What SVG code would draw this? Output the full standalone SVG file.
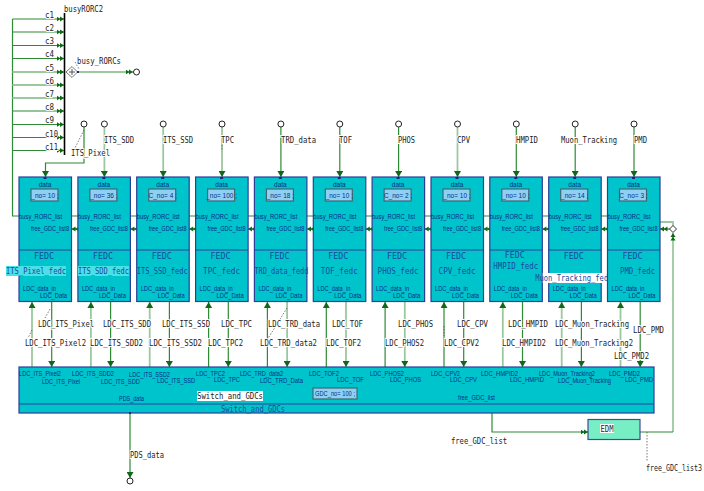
<svg xmlns="http://www.w3.org/2000/svg" width="704" height="491" viewBox="0 0 704 491">
<style>
text{font-family:"Liberation Sans",Arial,sans-serif}
.w{fill:none;stroke:#2f8a35;stroke-width:1.2}
.p{fill:none;stroke:#9cc89f;stroke-width:1.8}
.dot{fill:none;stroke:#555;stroke-width:.8;stroke-dasharray:1.5 1.5}
.box{fill:#00c4cc;stroke:#2c3f98;stroke-width:1.2}
.div{stroke:#2c3f98;stroke-width:1}
.sm{font-size:6.5px;fill:#062f86}
.nm{font-family:"DejaVu Sans Mono","Liberation Mono",monospace;font-size:8px;fill:#1a4a9c}
.lb{font-family:"DejaVu Sans Mono","Liberation Mono",monospace;font-size:8px;fill:#222;paint-order:stroke;stroke:#fff;stroke-width:2px}
.fld{fill:#8ed0f4;stroke:#3c6a70;stroke-width:1.2}
.c{fill:#fff;stroke:#222;stroke-width:1}
.pt{fill:#1a2a7a}
</style>
<defs>
<marker id="a1" markerUnits="userSpaceOnUse" markerWidth="7" markerHeight="7" refX="6" refY="3.5" orient="auto"><path d="M0 0L6 3.5L0 7Z" fill="#0f6a18"/></marker>
<marker id="a2" markerUnits="userSpaceOnUse" markerWidth="8" markerHeight="6" refX="7.5" refY="3" orient="auto"><path d="M0 .5L4 3L0 5.5ZM3.5 .5L7.5 3L3.5 5.5Z" fill="#0f6a18"/></marker>
</defs>

<g id="connectors">
<path class="w" d="M12.500 19V216H19"/>
<path class="w" d="M12.500 19H64" marker-end="url(#a2)"/>
<path class="w" d="M12.500 32H64" marker-end="url(#a2)"/>
<path class="w" d="M12.500 45.500H64" marker-end="url(#a2)"/>
<path class="w" d="M12.500 58.500H64" marker-end="url(#a2)"/>
<path class="p" d="M12.500 72H64" marker-end="url(#a2)"/>
<path class="p" d="M12.500 85H64" marker-end="url(#a2)"/>
<path class="p" d="M12.500 98H64" marker-end="url(#a2)"/>
<path class="w" d="M12.500 111H64" marker-end="url(#a2)"/>
<path class="w" d="M12.500 124.500H64" marker-end="url(#a2)"/>
<path class="w" d="M12.500 137.500H64" marker-end="url(#a2)"/>
<path class="w" d="M12.500 150.500H64" marker-end="url(#a2)"/>
<path d="M64.500 13V155" stroke="#000" stroke-width="1.6"/>
<path class="p" d="M78 72H133" marker-end="url(#a2)"/>
<circle class="c" cx="136.500" cy="72" r="3"/>
<path d="M66 72L72 66.500L77.500 72L72 77.500Z" fill="#fff" stroke="#777" stroke-width="1"/>
<path d="M69 72H75M72 69V75" stroke="#555" stroke-width="1"/>
<rect class="pt" x="77" y="71" width="2" height="2"/>
<path class="dot" d="M75 62L79 69"/>

<path class="w" d="M84 127V163H45.500V177" marker-end="url(#a1)"/>
<path class="p" d="M104.400 127V177" marker-end="url(#a1)"/>
<path class="p" d="M163.200 127V177" marker-end="url(#a1)"/>
<path class="p" d="M222 127V177" stroke-width="1" marker-end="url(#a1)"/>
<path class="w" d="M280.900 127V177" marker-end="url(#a1)"/>
<path class="w" d="M339.800 127V177" marker-end="url(#a1)"/>
<path class="w" d="M398.600 127V177" marker-end="url(#a1)"/>
<path class="p" d="M457.500 127V177" marker-end="url(#a1)"/>
<path class="w" d="M516.300 127V177" marker-end="url(#a1)"/>
<path class="w" d="M575.200 127V177" marker-end="url(#a1)"/>
<path class="w" d="M634 127V177" marker-end="url(#a1)"/>
<circle class="c" cx="84" cy="124" r="3"/><circle class="c" cx="104.400" cy="124" r="3"/><circle class="c" cx="163.200" cy="124" r="3"/><circle class="c" cx="222" cy="124" r="3"/><circle class="c" cx="280.900" cy="124" r="3"/><circle class="c" cx="339.800" cy="124" r="3"/><circle class="c" cx="398.600" cy="124" r="3"/><circle class="c" cx="457.500" cy="124" r="3"/><circle class="c" cx="516.300" cy="124" r="3"/><circle class="c" cx="575.200" cy="124" r="3"/><circle class="c" cx="634" cy="124" r="3"/>
<path class="dot" d="M84 130L75 148M222 145V151"/>

<path class="w" d="M71.500 216H78M130.400 216H136.700M189.200 216H195.600M248 216H254.400M307 216H313.300M365.800 216H372.100M424.700 216H431M483.500 216H489.800M542.400 216H548.700M601.200 216H607.500"/>
<path class="w" d="M78 229H71.500" marker-end="url(#a2)"/>
<path class="w" d="M136.700 229H130.400" marker-end="url(#a2)"/>
<path class="w" d="M195.600 229H189.200" marker-end="url(#a2)"/>
<path class="w" d="M254.400 229H248" marker-end="url(#a2)"/>
<path class="w" d="M313.300 229H307" marker-end="url(#a2)"/>
<path class="w" d="M372.100 229H365.800" marker-end="url(#a2)"/>
<path class="w" d="M431 229H424.700" marker-end="url(#a2)"/>
<path class="w" d="M489.800 229H483.500" marker-end="url(#a2)"/>
<path class="w" d="M548.700 229H542.400" marker-end="url(#a2)"/>
<path class="w" d="M607.500 229H601.200" marker-end="url(#a2)"/>
<path class="w" d="M670 229H660" marker-end="url(#a2)"/>
<path class="p" d="M660 222H673V226"/>
<path d="M669.500 229L673 225.500L676.500 229L673 232.500Z" fill="#fff" stroke="#333" stroke-width="1"/>
<path class="p" d="M673 432V233" marker-end="url(#a2)"/>
<path class="w" d="M640 432H673"/>

<path class="p" d="M32 367V302" marker-end="url(#a1)"/><path class="w" d="M51.700 302V367" marker-end="url(#a1)"/>
<path class="p" d="M90.900 367V302" marker-end="url(#a1)"/><path class="w" d="M110.600 302V367" marker-end="url(#a1)"/>
<path class="p" d="M149.700 367V302" marker-end="url(#a1)"/><path class="w" d="M169.400 302V367" marker-end="url(#a1)"/>
<path class="w" d="M208.600 367V302" marker-end="url(#a1)"/><path class="w" d="M228.300 302V367" marker-end="url(#a1)"/>
<path class="w" d="M267.400 367V302" marker-end="url(#a1)"/><path class="p" d="M287.100 302V367" marker-end="url(#a1)"/>
<path class="w" d="M326.300 367V302" marker-end="url(#a1)"/><path class="p" d="M346 302V367" marker-end="url(#a1)"/>
<path class="w" d="M385.100 367V302" marker-end="url(#a1)"/><path class="p" d="M404.800 302V367" marker-end="url(#a1)"/>
<path class="w" d="M444 367V302" marker-end="url(#a1)"/><path class="w" d="M463.700 302V367" marker-end="url(#a1)"/>
<path class="p" d="M502.800 367V302" marker-end="url(#a1)"/><path class="w" d="M522.500 302V367" marker-end="url(#a1)"/>
<path class="p" d="M561.700 367V302" marker-end="url(#a1)"/><path class="w" d="M581.400 302V367" marker-end="url(#a1)"/>
<path class="p" d="M620.500 367V302" marker-end="url(#a1)"/><path class="w" d="M640.200 302V367" marker-end="url(#a1)"/>
<path class="dot" d="M50 309L45 318M32 330L28 338M287 308L267 340M444 326V336"/>

<path class="w" d="M130 413V478" marker-end="url(#a1)"/>
<circle class="c" cx="130" cy="481" r="3"/>
<path class="w" d="M492 413V432H588" marker-end="url(#a2)"/>
<path class="dot" d="M647 432V462"/>

<g class="lbs">
<text class="lb" x="45" y="18" textLength="9" lengthAdjust="spacingAndGlyphs">c1</text>
<text class="lb" x="45" y="31" textLength="9" lengthAdjust="spacingAndGlyphs">c2</text>
<text class="lb" x="45" y="44" textLength="9" lengthAdjust="spacingAndGlyphs">c3</text>
<text class="lb" x="45" y="57" textLength="9" lengthAdjust="spacingAndGlyphs">c4</text>
<text class="lb" x="45" y="71" textLength="9" lengthAdjust="spacingAndGlyphs">c5</text>
<text class="lb" x="45" y="84" textLength="9" lengthAdjust="spacingAndGlyphs">c6</text>
<text class="lb" x="45" y="97" textLength="9" lengthAdjust="spacingAndGlyphs">c7</text>
<text class="lb" x="45" y="110" textLength="9" lengthAdjust="spacingAndGlyphs">c8</text>
<text class="lb" x="45" y="123" textLength="9" lengthAdjust="spacingAndGlyphs">c9</text>
<text class="lb" x="45" y="137" textLength="13" lengthAdjust="spacingAndGlyphs">c10</text>
<text class="lb" x="45" y="150" textLength="13" lengthAdjust="spacingAndGlyphs">c11</text>
<text class="lb" x="64" y="12" textLength="39" lengthAdjust="spacingAndGlyphs">busyRORC2</text>
<text class="lb" x="77" y="64" textLength="44" lengthAdjust="spacingAndGlyphs">busy_RORCs</text>
<text class="lb" x="71" y="156" textLength="39" lengthAdjust="spacingAndGlyphs">ITS_Pixel</text>
<text class="lb" x="104" y="143" textLength="30" lengthAdjust="spacingAndGlyphs">ITS_SDD</text>
<text class="lb" x="163" y="143" textLength="30" lengthAdjust="spacingAndGlyphs">ITS_SSD</text>
<text class="lb" x="221" y="143" textLength="13" lengthAdjust="spacingAndGlyphs">TPC</text>
<text class="lb" x="281" y="143" textLength="35" lengthAdjust="spacingAndGlyphs">TRD_data</text>
<text class="lb" x="339" y="143" textLength="13" lengthAdjust="spacingAndGlyphs">TOF</text>
<text class="lb" x="398" y="143" textLength="17" lengthAdjust="spacingAndGlyphs">PHOS</text>
<text class="lb" x="457" y="143" textLength="13" lengthAdjust="spacingAndGlyphs">CPV</text>
<text class="lb" x="516" y="143" textLength="22" lengthAdjust="spacingAndGlyphs">HMPID</text>
<text class="lb" x="561" y="143" textLength="56" lengthAdjust="spacingAndGlyphs">Muon_Tracking</text>
<text class="lb" x="634" y="143" textLength="13" lengthAdjust="spacingAndGlyphs">PMD</text>
<text class="lb" x="38" y="327" textLength="56" lengthAdjust="spacingAndGlyphs">LDC_ITS_Pixel</text>
<text class="lb" x="25" y="346" textLength="61" lengthAdjust="spacingAndGlyphs">LDC_ITS_Pixel2</text>
<text class="lb" x="103" y="327" textLength="48" lengthAdjust="spacingAndGlyphs">LDC_ITS_SDD</text>
<text class="lb" x="90" y="346" textLength="53" lengthAdjust="spacingAndGlyphs">LDC_ITS_SDD2</text>
<text class="lb" x="162" y="327" textLength="48" lengthAdjust="spacingAndGlyphs">LDC_ITS_SSD</text>
<text class="lb" x="149" y="346" textLength="53" lengthAdjust="spacingAndGlyphs">LDC_ITS_SSD2</text>
<text class="lb" x="221" y="327" textLength="31" lengthAdjust="spacingAndGlyphs">LDC_TPC</text>
<text class="lb" x="208" y="346" textLength="35" lengthAdjust="spacingAndGlyphs">LDC_TPC2</text>
<text class="lb" x="268" y="327" textLength="52" lengthAdjust="spacingAndGlyphs">LDC_TRD_data</text>
<text class="lb" x="260" y="346" textLength="57" lengthAdjust="spacingAndGlyphs">LDC_TRD_data2</text>
<text class="lb" x="332" y="327" textLength="31" lengthAdjust="spacingAndGlyphs">LDC_TOF</text>
<text class="lb" x="326" y="346" textLength="35" lengthAdjust="spacingAndGlyphs">LDC_TOF2</text>
<text class="lb" x="398" y="327" textLength="35" lengthAdjust="spacingAndGlyphs">LDC_PHOS</text>
<text class="lb" x="385" y="346" textLength="39" lengthAdjust="spacingAndGlyphs">LDC_PHOS2</text>
<text class="lb" x="457" y="327" textLength="31" lengthAdjust="spacingAndGlyphs">LDC_CPV</text>
<text class="lb" x="444" y="346" textLength="35" lengthAdjust="spacingAndGlyphs">LDC_CPV2</text>
<text class="lb" x="508" y="327" textLength="40" lengthAdjust="spacingAndGlyphs">LDC_HMPID</text>
<text class="lb" x="502" y="346" textLength="44" lengthAdjust="spacingAndGlyphs">LDC_HMPID2</text>
<text class="lb" x="555" y="327" textLength="74" lengthAdjust="spacingAndGlyphs">LDC_Muon_Tracking</text>
<text class="lb" x="555" y="346" textLength="78" lengthAdjust="spacingAndGlyphs">LDC_Muon_Tracking2</text>
<text class="lb" x="633" y="333" textLength="31" lengthAdjust="spacingAndGlyphs">LDC_PMD</text>
<text class="lb" x="614" y="359" textLength="35" lengthAdjust="spacingAndGlyphs">LDC_PMD2</text>
<text class="lb" x="130" y="458" textLength="34" lengthAdjust="spacingAndGlyphs">PDS_data</text>
<text class="lb" x="451" y="444" textLength="56" lengthAdjust="spacingAndGlyphs">free_GDC_list</text>
<text class="lb" x="646" y="471" textLength="56" lengthAdjust="spacingAndGlyphs">free_GDC_list3</text>
</g>
</g>

<g id="ITS_Pixel_fedc" transform="translate(19,177)"><rect class="box" width="52.500" height="124.500"/><path class="div" d="M0 73H52.500"/><rect class="pt" x="24.500" y="0" width="3" height="2"/><text class="sm" x="26" y="10" text-anchor="middle">data</text><rect class="fld" x="12" y="12" width="27" height="12"/><text class="sm" x="26" y="21" text-anchor="middle">_no= 10 ;</text><text class="sm" x="0" y="42" textLength="43" lengthAdjust="spacingAndGlyphs">busy_RORC_list</text><text class="sm" x="12" y="54" textLength="38" lengthAdjust="spacingAndGlyphs">free_GDC_list8</text><text class="nm" x="25" y="82" text-anchor="middle" textLength="20" lengthAdjust="spacingAndGlyphs">FEDC</text><rect x="-13" y="89" width="60" height="10" fill="#4be0e8"/><text class="nm" x="-13" y="97" textLength="60" lengthAdjust="spacingAndGlyphs">ITS_Pixel_fedc</text><text class="sm" x="4" y="114" textLength="33" lengthAdjust="spacingAndGlyphs">LDC_data_in</text><text class="sm" x="21" y="120.500" textLength="27" lengthAdjust="spacingAndGlyphs">LDC_Data</text></g>
<g id="ITS_SDD_fedc" transform="translate(77.900,177)"><rect class="box" width="52.500" height="124.500"/><path class="div" d="M0 73H52.500"/><rect class="pt" x="24.500" y="0" width="3" height="2"/><text class="sm" x="26" y="10" text-anchor="middle">data</text><rect class="fld" x="12" y="12" width="27" height="12"/><text class="sm" x="26" y="21" text-anchor="middle">_no= 36 ;</text><text class="sm" x="0" y="42" textLength="43" lengthAdjust="spacingAndGlyphs">busy_RORC_list</text><text class="sm" x="12" y="54" textLength="38" lengthAdjust="spacingAndGlyphs">free_GDC_list8</text><text class="nm" x="25" y="82" text-anchor="middle" textLength="20" lengthAdjust="spacingAndGlyphs">FEDC</text><rect x="0" y="89" width="51" height="10" fill="#4be0e8"/><text class="nm" x="0" y="97" textLength="51" lengthAdjust="spacingAndGlyphs">ITS_SDD_fedc</text><text class="sm" x="4" y="114" textLength="33" lengthAdjust="spacingAndGlyphs">LDC_data_in</text><text class="sm" x="21" y="120.500" textLength="27" lengthAdjust="spacingAndGlyphs">LDC_Data</text></g>
<g id="ITS_SSD_fedc" transform="translate(136.700,177)"><rect class="box" width="52.500" height="124.500"/><path class="div" d="M0 73H52.500"/><rect class="pt" x="24.500" y="0" width="3" height="2"/><text class="sm" x="26" y="10" text-anchor="middle">data</text><rect class="fld" x="12" y="12" width="27" height="12"/><text class="sm" x="26" y="21" text-anchor="middle">C_no= 4 ;</text><text class="sm" x="0" y="42" textLength="43" lengthAdjust="spacingAndGlyphs">busy_RORC_list</text><text class="sm" x="12" y="54" textLength="38" lengthAdjust="spacingAndGlyphs">free_GDC_list8</text><text class="nm" x="25" y="82" text-anchor="middle" textLength="20" lengthAdjust="spacingAndGlyphs">FEDC</text><text class="nm" x="0" y="97" textLength="51" lengthAdjust="spacingAndGlyphs">ITS_SSD_fedc</text><text class="sm" x="4" y="114" textLength="33" lengthAdjust="spacingAndGlyphs">LDC_data_in</text><text class="sm" x="21" y="120.500" textLength="27" lengthAdjust="spacingAndGlyphs">LDC_Data</text></g>
<g id="TPC_fedc" transform="translate(195.600,177)"><rect class="box" width="52.500" height="124.500"/><path class="div" d="M0 73H52.500"/><rect class="pt" x="24.500" y="0" width="3" height="2"/><text class="sm" x="26" y="10" text-anchor="middle">data</text><rect class="fld" x="12" y="12" width="27" height="12"/><text class="sm" x="26" y="21" text-anchor="middle">_no= 100 ;</text><text class="sm" x="0" y="42" textLength="43" lengthAdjust="spacingAndGlyphs">busy_RORC_list</text><text class="sm" x="12" y="54" textLength="38" lengthAdjust="spacingAndGlyphs">free_GDC_list8</text><text class="nm" x="25" y="82" text-anchor="middle" textLength="20" lengthAdjust="spacingAndGlyphs">FEDC</text><text class="nm" x="26" y="97" text-anchor="middle" textLength="37" lengthAdjust="spacingAndGlyphs">TPC_fedc</text><text class="sm" x="4" y="114" textLength="33" lengthAdjust="spacingAndGlyphs">LDC_data_in</text><text class="sm" x="21" y="120.500" textLength="27" lengthAdjust="spacingAndGlyphs">LDC_Data</text></g>
<g id="TRD_data_fedd" transform="translate(254.400,177)"><rect class="box" width="52.500" height="124.500"/><path class="div" d="M0 73H52.500"/><rect class="pt" x="24.500" y="0" width="3" height="2"/><text class="sm" x="26" y="10" text-anchor="middle">data</text><rect class="fld" x="12" y="12" width="27" height="12"/><text class="sm" x="26" y="21" text-anchor="middle">_no= 18 ;</text><text class="sm" x="0" y="42" textLength="43" lengthAdjust="spacingAndGlyphs">busy_RORC_list</text><text class="sm" x="12" y="54" textLength="38" lengthAdjust="spacingAndGlyphs">free_GDC_list8</text><text class="nm" x="25" y="82" text-anchor="middle" textLength="20" lengthAdjust="spacingAndGlyphs">FEDC</text><text class="nm" x="0" y="97" textLength="54" lengthAdjust="spacingAndGlyphs">TRD_data_fedd</text><text class="sm" x="4" y="114" textLength="33" lengthAdjust="spacingAndGlyphs">LDC_data_in</text><text class="sm" x="21" y="120.500" textLength="27" lengthAdjust="spacingAndGlyphs">LDC_Data</text></g>
<g id="TOF_fedc" transform="translate(313.300,177)"><rect class="box" width="52.500" height="124.500"/><path class="div" d="M0 73H52.500"/><rect class="pt" x="24.500" y="0" width="3" height="2"/><text class="sm" x="26" y="10" text-anchor="middle">data</text><rect class="fld" x="12" y="12" width="27" height="12"/><text class="sm" x="26" y="21" text-anchor="middle">_no= 10 ;</text><text class="sm" x="0" y="42" textLength="43" lengthAdjust="spacingAndGlyphs">busy_RORC_list</text><text class="sm" x="12" y="54" textLength="38" lengthAdjust="spacingAndGlyphs">free_GDC_list8</text><text class="nm" x="25" y="82" text-anchor="middle" textLength="20" lengthAdjust="spacingAndGlyphs">FEDC</text><text class="nm" x="26" y="97" text-anchor="middle" textLength="37" lengthAdjust="spacingAndGlyphs">TOF_fedc</text><text class="sm" x="4" y="114" textLength="33" lengthAdjust="spacingAndGlyphs">LDC_data_in</text><text class="sm" x="21" y="120.500" textLength="27" lengthAdjust="spacingAndGlyphs">LDC_Data</text></g>
<g id="PHOS_fedc" transform="translate(372.100,177)"><rect class="box" width="52.500" height="124.500"/><path class="div" d="M0 73H52.500"/><rect class="pt" x="24.500" y="0" width="3" height="2"/><text class="sm" x="26" y="10" text-anchor="middle">data</text><rect class="fld" x="12" y="12" width="27" height="12"/><text class="sm" x="26" y="21" text-anchor="middle">C_no= 2 ;</text><text class="sm" x="0" y="42" textLength="43" lengthAdjust="spacingAndGlyphs">busy_RORC_list</text><text class="sm" x="12" y="54" textLength="38" lengthAdjust="spacingAndGlyphs">free_GDC_list8</text><text class="nm" x="25" y="82" text-anchor="middle" textLength="20" lengthAdjust="spacingAndGlyphs">FEDC</text><text class="nm" x="26" y="97" text-anchor="middle" textLength="41" lengthAdjust="spacingAndGlyphs">PHOS_fedc</text><text class="sm" x="4" y="114" textLength="33" lengthAdjust="spacingAndGlyphs">LDC_data_in</text><text class="sm" x="21" y="120.500" textLength="27" lengthAdjust="spacingAndGlyphs">LDC_Data</text></g>
<g id="CPV_fedc" transform="translate(431,177)"><rect class="box" width="52.500" height="124.500"/><path class="div" d="M0 73H52.500"/><rect class="pt" x="24.500" y="0" width="3" height="2"/><text class="sm" x="26" y="10" text-anchor="middle">data</text><rect class="fld" x="12" y="12" width="27" height="12"/><text class="sm" x="26" y="21" text-anchor="middle">_no= 10 ;</text><text class="sm" x="0" y="42" textLength="43" lengthAdjust="spacingAndGlyphs">busy_RORC_list</text><text class="sm" x="12" y="54" textLength="38" lengthAdjust="spacingAndGlyphs">free_GDC_list8</text><text class="nm" x="25" y="82" text-anchor="middle" textLength="20" lengthAdjust="spacingAndGlyphs">FEDC</text><text class="nm" x="26" y="97" text-anchor="middle" textLength="37" lengthAdjust="spacingAndGlyphs">CPV_fedc</text><text class="sm" x="4" y="114" textLength="33" lengthAdjust="spacingAndGlyphs">LDC_data_in</text><text class="sm" x="21" y="120.500" textLength="27" lengthAdjust="spacingAndGlyphs">LDC_Data</text></g>
<g id="HMPID_fedc" transform="translate(489.800,177)"><rect class="box" width="52.500" height="124.500"/><path class="div" d="M0 73H52.500"/><rect class="pt" x="24.500" y="0" width="3" height="2"/><text class="sm" x="26" y="10" text-anchor="middle">data</text><rect class="fld" x="12" y="12" width="27" height="12"/><text class="sm" x="26" y="21" text-anchor="middle">_no= 10 ;</text><text class="sm" x="0" y="42" textLength="43" lengthAdjust="spacingAndGlyphs">busy_RORC_list</text><text class="sm" x="12" y="54" textLength="38" lengthAdjust="spacingAndGlyphs">free_GDC_list8</text><text class="nm" x="25" y="81" text-anchor="middle" textLength="20" lengthAdjust="spacingAndGlyphs">FEDC</text><text class="nm" x="26" y="92" text-anchor="middle" textLength="45" lengthAdjust="spacingAndGlyphs">HMPID_fedc</text><text class="sm" x="4" y="114" textLength="33" lengthAdjust="spacingAndGlyphs">LDC_data_in</text><text class="sm" x="21" y="120.500" textLength="27" lengthAdjust="spacingAndGlyphs">LDC_Data</text></g>
<g id="Muon_Tracking_fedc" transform="translate(548.700,177)"><rect class="box" width="52.500" height="124.500"/><path class="div" d="M0 73H52.500"/><rect class="pt" x="24.500" y="0" width="3" height="2"/><text class="sm" x="26" y="10" text-anchor="middle">data</text><rect class="fld" x="12" y="12" width="27" height="12"/><text class="sm" x="26" y="21" text-anchor="middle">_no= 14 ;</text><text class="sm" x="0" y="42" textLength="43" lengthAdjust="spacingAndGlyphs">busy_RORC_list</text><text class="sm" x="12" y="54" textLength="38" lengthAdjust="spacingAndGlyphs">free_GDC_list8</text><text class="nm" x="25" y="82" text-anchor="middle" textLength="20" lengthAdjust="spacingAndGlyphs">FEDC</text><rect x="-6" y="96" width="67" height="10" fill="#fff"/><text class="nm" x="-13.500" y="104" textLength="73" lengthAdjust="spacingAndGlyphs">Muon_Tracking_fed</text><text class="sm" x="4" y="114" textLength="33" lengthAdjust="spacingAndGlyphs">LDC_data_in</text><text class="sm" x="21" y="120.500" textLength="27" lengthAdjust="spacingAndGlyphs">LDC_Data</text></g>
<g id="PMD_fedc" transform="translate(607.500,177)"><rect class="box" width="52.500" height="124.500"/><path class="div" d="M0 73H52.500"/><rect class="pt" x="24.500" y="0" width="3" height="2"/><text class="sm" x="26" y="10" text-anchor="middle">data</text><rect class="fld" x="12" y="12" width="27" height="12"/><text class="sm" x="26" y="21" text-anchor="middle">C_no= 3 ;</text><text class="sm" x="0" y="42" textLength="43" lengthAdjust="spacingAndGlyphs">busy_RORC_list</text><text class="sm" x="12" y="54" textLength="38" lengthAdjust="spacingAndGlyphs">free_GDC_list8</text><text class="nm" x="25" y="82" text-anchor="middle" textLength="20" lengthAdjust="spacingAndGlyphs">FEDC</text><text class="nm" x="30" y="97" text-anchor="middle" textLength="35" lengthAdjust="spacingAndGlyphs">PMD_fedc</text><text class="sm" x="4" y="114" textLength="33" lengthAdjust="spacingAndGlyphs">LDC_data_in</text><text class="sm" x="21" y="120.500" textLength="27" lengthAdjust="spacingAndGlyphs">LDC_Data</text></g>

<g id="Switch_and_GDCs">
<rect class="box" x="19" y="367" width="635" height="46"/>
<path class="div" d="M19 404H654"/>
<rect class="pt" x="129" y="412" width="2" height="2"/>
<g class="sm">
<text x="19" y="376" textLength="42" lengthAdjust="spacingAndGlyphs">LDC_ITS_Pixel2</text>
<text x="42" y="384" textLength="38" lengthAdjust="spacingAndGlyphs">LDC_ITS_Pixel</text>
<text x="72" y="376" textLength="42" lengthAdjust="spacingAndGlyphs">LDC_ITS_SDD2</text>
<text x="101" y="384" textLength="39" lengthAdjust="spacingAndGlyphs">LDC_ITS_SDD</text>
<text x="129" y="377" textLength="41" lengthAdjust="spacingAndGlyphs">LDC_ITS_SSD2</text>
<text x="157" y="383" textLength="38" lengthAdjust="spacingAndGlyphs">LDC_ITS_SSD</text>
<text x="196" y="376" textLength="29" lengthAdjust="spacingAndGlyphs">LDC_TPC2</text>
<text x="214" y="382" textLength="26" lengthAdjust="spacingAndGlyphs">LDC_TPC</text>
<text x="240" y="376" textLength="43" lengthAdjust="spacingAndGlyphs">LDC_TRD_data2</text>
<text x="260" y="383" textLength="43" lengthAdjust="spacingAndGlyphs">LDC_TRD_Data</text>
<text x="309" y="376" textLength="30" lengthAdjust="spacingAndGlyphs">LDC_TOF2</text>
<text x="337" y="382" textLength="27" lengthAdjust="spacingAndGlyphs">LDC_TOF</text>
<text x="370" y="376" textLength="34" lengthAdjust="spacingAndGlyphs">LDC_PHOS2</text>
<text x="390" y="382" textLength="31" lengthAdjust="spacingAndGlyphs">LDC_PHOS</text>
<text x="431" y="376" textLength="29" lengthAdjust="spacingAndGlyphs">LDC_CPV2</text>
<text x="450" y="382" textLength="27" lengthAdjust="spacingAndGlyphs">LDC_CPV</text>
<text x="481" y="376" textLength="37" lengthAdjust="spacingAndGlyphs">LDC_HMPID2</text>
<text x="510" y="382" textLength="34" lengthAdjust="spacingAndGlyphs">LDC_HMPID</text>
<text x="539" y="376" textLength="56" lengthAdjust="spacingAndGlyphs">LDC_Muon_Tracking2</text>
<text x="558" y="383" textLength="53" lengthAdjust="spacingAndGlyphs">LDC_Muon_Tracking</text>
<text x="609" y="376" textLength="31" lengthAdjust="spacingAndGlyphs">LDC_PMD2</text>
<text x="625" y="382" textLength="28" lengthAdjust="spacingAndGlyphs">LDC_PMD</text>
<text x="119" y="401" textLength="25" lengthAdjust="spacingAndGlyphs">PDS_data</text>
<text x="458" y="400" textLength="37" lengthAdjust="spacingAndGlyphs">free_GDC_list</text>
</g>
<rect x="197" y="391" width="66" height="10" fill="#fff"/>
<text class="nm" x="197" y="399" textLength="66" lengthAdjust="spacingAndGlyphs" style="fill:#222">Switch_and_GDCs</text>
<rect class="fld" x="313" y="388" width="44" height="11"/>
<text class="sm" x="335" y="396" text-anchor="middle" textLength="40" lengthAdjust="spacingAndGlyphs">GDC_no= 100 ;</text>
<text class="nm" x="221" y="412" textLength="64" lengthAdjust="spacingAndGlyphs">Switch_and_GDCs</text>
</g>

<g id="EDM">
<rect x="588" y="419.500" width="52" height="20" fill="#78eec4" stroke="#3c4c98" stroke-width="1.200"/>
<rect x="600" y="424" width="14" height="9" fill="#fff"/>
<text class="nm" x="600.500" y="432" textLength="13" lengthAdjust="spacingAndGlyphs" style="fill:#222">EDM</text>
</g>
</svg>
